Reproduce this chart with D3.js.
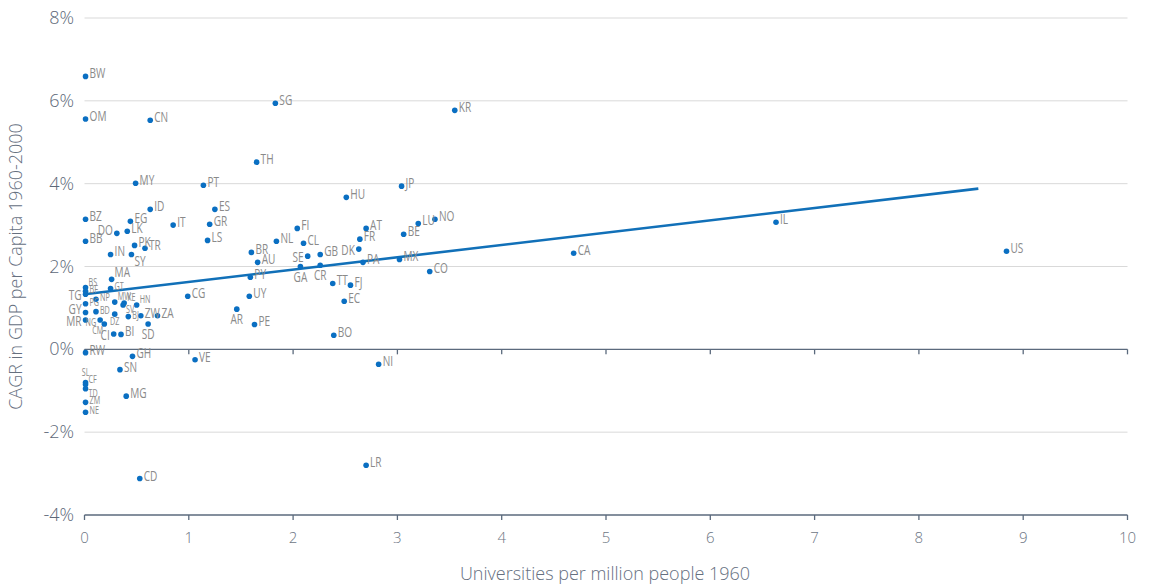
<!DOCTYPE html>
<html>
<head>
<meta charset="utf-8">
<script src="https://cdn.jsdelivr.net/npm/d3@7"></script>
<style>
  body { margin: 0; background: #fff; }
  svg { display: block; }
  .lbl { font-family: "Open Sans", sans-serif; fill: #8a8a8a; font-weight: 400; }
  .tick-y { font-family: "Open Sans", sans-serif; fill: #5d6878; font-size: 18px; font-weight: 300; }
  .tick-x { font-family: "Open Sans", sans-serif; fill: #6d7684; font-size: 15px; font-weight: 300; }
  .axis-title { font-family: "Open Sans", sans-serif; fill: #66707f; font-size: 18px; font-weight: 300; }
</style>
</head>
<body>
<svg id="chart"></svg>
<script>
// country codes and values (universities per million 1960, CAGR %)
var codes = ["BW","OM","CN","SG","KR","TH","MY","PT","HU","JP","ID","ES","BZ","EG","GR","IT",
  "AT","LU","NO","FI","IL","DO","LK","BE","BB","LS","NL","CL","FR","DK","BR","PK","TR","IN",
  "SY","SE","GB","AU","PA","MX","CA","US","GA","CR","CO","PY","TT","FJ","EC","MA","GT","BS",
  "BF","TG","CG","UY","PG","NP","MW","KE","SV","HN","GY","BD","DZ","BJ","ZW","ZA","MR","NG",
  "CM","SD","CI","BI","AR","PE","BO","RW","GH","VE","SN","NI","SL","CF","TD","ZM","NE","MG",
  "CD","LR"];
var univ = [0.01,0.01,0.63,1.83,3.55,1.65,0.49,1.14,2.51,3.04,0.63,1.25,0.01,0.44,1.20,0.85,
  2.70,3.20,3.36,2.04,6.63,0.31,0.41,3.06,0.01,1.18,1.84,2.10,2.64,2.63,1.60,0.48,0.58,0.25,
  0.45,2.14,2.26,1.66,2.67,3.02,4.69,8.84,2.07,2.26,3.31,1.59,2.38,2.55,2.49,0.26,0.25,0.01,
  0.01,0.01,0.99,1.58,0.01,0.11,0.29,0.38,0.37,0.50,0.01,0.11,0.29,0.42,0.54,0.70,0.01,0.15,
  0.19,0.61,0.28,0.35,1.46,1.63,2.39,0.01,0.46,1.06,0.34,2.82,0.01,0.01,0.01,0.01,0.01,0.40,
  0.53,2.70];
var cagr = [6.59,5.56,5.53,5.94,5.77,4.52,4.01,3.96,3.67,3.94,3.38,3.38,3.14,3.09,3.02,3.00,
  2.92,3.04,3.14,2.92,3.07,2.80,2.85,2.78,2.61,2.63,2.61,2.56,2.66,2.42,2.34,2.51,2.44,2.29,
  2.29,2.25,2.29,2.10,2.10,2.17,2.32,2.37,2.00,2.03,1.88,1.74,1.59,1.55,1.16,1.69,1.47,1.49,
  1.40,1.33,1.28,1.28,1.10,1.21,1.14,1.12,1.07,1.07,0.89,0.91,0.85,0.79,0.81,0.81,0.71,0.71,
  0.61,0.61,0.37,0.36,0.97,0.60,0.34,-0.08,-0.17,-0.25,-0.49,-0.36,-0.80,-0.85,-0.95,-1.28,
  -1.52,-1.13,-3.12,-2.80];

// trend line end points
var trendX = [0, 8.57];
var trendY = [1.33, 3.88];

var xTicks = [0,1,2,3,4,5,6,7,8,9,10];
var yTicks = [-4,-2,0,2,4,6,8];

// label placement (default: right) and small labels
var labelSide = {TG:"l", GY:"lu", MR:"l", DO:"lu", DK:"l", SE:"l", NG:"l", CM:"lb", CI:"l",
  GA:"b", CR:"b", AR:"b", SD:"b", DZ:"b", SY:"br", SL:"a", SV:"br", TD:"br", CF:"ar",
  BS:"ar", MW:"ar", KE:"ar", HN:"ar", MA:"ar"};
var smallLabels = ["BS","BF","PG","NP","MW","KE","SV","HN","BD","BJ","NG","CM","DZ","SL",
  "CF","TD","ZM","NE","GT"];

var W = 1150, H = 585;
var svg = d3.select("#chart").attr("width", W).attr("height", H);

var x = d3.scaleLinear().domain([0, 10]).range([84.5, 1127.5]);
var y = d3.scaleLinear().domain([-4, 8]).range([515, 18]);

//gridlines
svg.append("g").selectAll("line")
  .data(yTicks.filter(function(d) { return d != 0 && d != -4; }))
  .enter().append("line")
  .attr("x1", x(0)).attr("x2", x(10))
  .attr("y1", function(d) { return y(d); }).attr("y2", function(d) { return y(d); })
  .attr("stroke", "#d9d9d9").attr("stroke-width", 1);

//dark axis lines at 0% and bottom, with ticks
[0, -4].forEach(function(v) {
  var g = svg.append("g");
  g.append("line")
    .attr("x1", x(0)).attr("x2", x(10))
    .attr("y1", y(v)).attr("y2", y(v))
    .attr("stroke", "#5b6a7d").attr("stroke-width", 1.3);
  g.selectAll(".tk").data(xTicks).enter().append("line")
    .attr("x1", function(d) { return x(d); }).attr("x2", function(d) { return x(d); })
    .attr("y1", y(v)).attr("y2", y(v) + 5)
    .attr("stroke", "#5b6a7d").attr("stroke-width", 1.3);
});

//tick labels
svg.append("g").selectAll("text").data(yTicks).enter().append("text")
  .attr("class", "tick-y")
  .attr("x", 74).attr("y", function(d) { return y(d) + 6; })
  .attr("text-anchor", "end")
  .text(function(d) { return d + "%"; });

svg.append("g").selectAll("text").data(xTicks).enter().append("text")
  .attr("class", "tick-x")
  .attr("x", function(d) { return x(d); }).attr("y", 543)
  .attr("text-anchor", "middle")
  .text(function(d) { return d; });

//axis titles
svg.append("text").attr("class", "axis-title")
  .attr("x", x(5) - 1).attr("y", 580)
  .attr("text-anchor", "middle")
  .text("Universities per million people 1960");

svg.append("text").attr("class", "axis-title")
  .attr("transform", "translate(22," + y(2) + ") rotate(-90)")
  .attr("text-anchor", "middle")
  .text("CAGR in GDP per Capita 1960-2000");

//trend line
svg.append("path")
  .datum(d3.zip(trendX, trendY))
  .attr("fill", "none")
  .attr("stroke", "#1170b8")
  .attr("stroke-width", 2.6)
  .attr("d", d3.line().x(function(d) { return x(d[0]); }).y(function(d) { return y(d[1]); }));

var pts = codes.map(function(c, i) { return {code: c, u: univ[i], g: cagr[i]}; });

svg.append("g").selectAll("circle").data(pts).enter().append("circle")
  .attr("cx", function(d) { return x(d.u); })
  .attr("cy", function(d) { return y(d.g); })
  .attr("r", 2.8)
  .attr("fill", "#0a6fc2");

//labels, squeezed horizontally to look condensed
svg.append("g").selectAll("text").data(pts).enter().append("text")
  .attr("class", "lbl")
  .each(function(d) {
    var side = labelSide[d.code] || "r";
    var small = smallLabels.indexOf(d.code) >= 0;
    var fs = small ? 10 : 14;
    var cx = x(d.u), cy = y(d.g);
    var tx = cx + 4, ty = cy + 2, anchor = "start";
    if (side == "l") { tx = cx - 4; anchor = "end"; ty = cy + 6; }
    if (side == "lu") { tx = cx - 4; anchor = "end"; ty = cy + 2; }
    if (side == "lb") { tx = cx - 1; anchor = "end"; ty = cy + 10; }
    if (side == "b") { tx = cx; anchor = "middle"; ty = cy + fs + 1; }
    if (side == "br") { tx = cx + 3; ty = cy + fs - 2; }
    if (side == "a") { tx = cx; anchor = "middle"; ty = cy - 6; }
    if (side == "ar") { tx = cx + 3; ty = cy - 2; }
    d3.select(this)
      .attr("transform", "translate(" + tx + "," + ty + ") scale(0.72,1)")
      .attr("text-anchor", anchor)
      .style("font-size", fs + "px")
      .text(d.code);
  });
</script>
</body>
</html>
